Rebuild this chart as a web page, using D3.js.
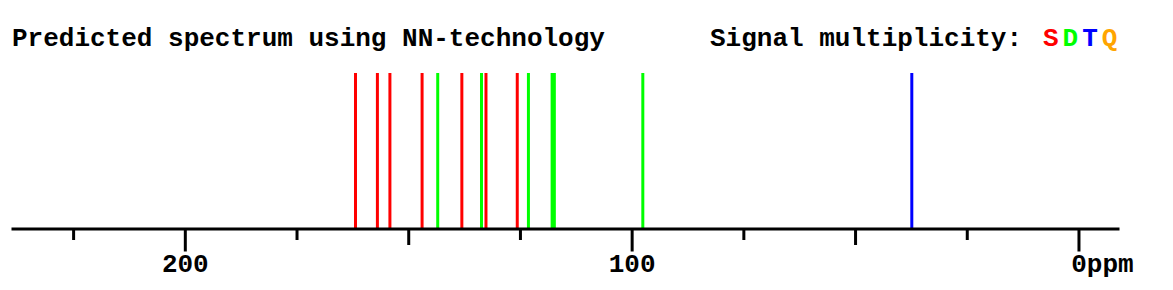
<!DOCTYPE html>
<html>
<head>
<meta charset="utf-8">
<script src="https://cdn.jsdelivr.net/npm/d3@7"></script>
<style>
  body { margin: 0; background: #fff; }
  svg { display: block; }
  text { font-family: "Courier New", "Liberation Mono", monospace; font-weight: bold; }
</style>
</head>
<body>
<div id="chart"></div>
<script>
// predicted shifts in ppm, one list per multiplicity
const singlets = [161.8, 156.9, 154.1, 146.9, 138.0, 132.6, 125.6];
const doublets = [143.4, 133.6, 123.1, 117.8, 117.3, 97.5];
const triplets = [37.3];
const quartets = [];

const legendLetters = ['S', 'D', 'T', 'Q'];
const legendColors = ['#ff0000', '#00ff00', '#0000ff', '#ffa500'];
const tickValues = [225, 200, 175, 150, 125, 100, 75, 50, 25, 0];
const labelledTicks = [200, 100, 0];

const width = 1173;
const height = 290;
const axisY = 228.5;
const peakTop = 73;

const x = d3.scaleLinear()
    .domain([238.9, -9.07])
    .range([11, 1119]);

const svg = d3.select('#chart').append('svg')
    .attr('width', width)
    .attr('height', height);

svg.append('text')
    .attr('x', 12)
    .attr('y', 46)
    .attr('font-size', 26)
    .text('Predicted spectrum using NN-technology');

svg.append('text')
    .attr('x', 710)
    .attr('y', 46)
    .attr('font-size', 26)
    .text('Signal multiplicity:');

svg.selectAll('.legend')
    .data(legendLetters)
    .join('text')
    .attr('class', 'legend')
    .attr('x', (d, i) => 1043 + i * 19.6)
    .attr('y', 46)
    .attr('font-size', 26)
    .attr('fill', (d, i) => legendColors[i])
    .text(d => d);

const peaks = [
    ...singlets.map(v => ({ppm: v, c: legendColors[0]})),
    ...doublets.map(v => ({ppm: v, c: legendColors[1]})),
    ...triplets.map(v => ({ppm: v, c: legendColors[2]})),
    ...quartets.map(v => ({ppm: v, c: legendColors[3]})),
];

svg.selectAll('.peak')
    .data(peaks)
    .join('line')
    .attr('class', 'peak')
    .attr('x1', d => x(d.ppm))
    .attr('x2', d => x(d.ppm))
    .attr('y1', peakTop)
    .attr('y2', axisY)
    .attr('stroke', d => d.c)
    .attr('stroke-width', 3);

const axis = d3.axisBottom(x)
    .tickValues(tickValues)
    .tickSizeOuter(0)
    .tickFormat(d => labelledTicks.includes(d) ? d : '');

const g = svg.append('g')
    .attr('transform', `translate(0,${axisY})`)
    .call(axis);

g.select('.domain').attr('stroke', '#000').attr('stroke-width', 3);
g.selectAll('.tick line')
    .attr('stroke', '#000')
    .attr('stroke-width', 3)
    .attr('y2', d => d % 100 === 0 ? 23 : d % 50 === 0 ? 16.5 : 11.5);
g.selectAll('.tick text')
    .attr('fill', '#000')
    .attr('font-size', 26)
    .attr('font-family', null)
    .attr('y', 43.5)
    .attr('dy', null);
g.selectAll('.tick text')
    .filter(d => d === 0)
    .attr('text-anchor', 'start')
    .attr('x', -7.8)
    .text('0ppm');
g.attr('font-family', null).attr('font-size', null);
</script>
</body>
</html>
